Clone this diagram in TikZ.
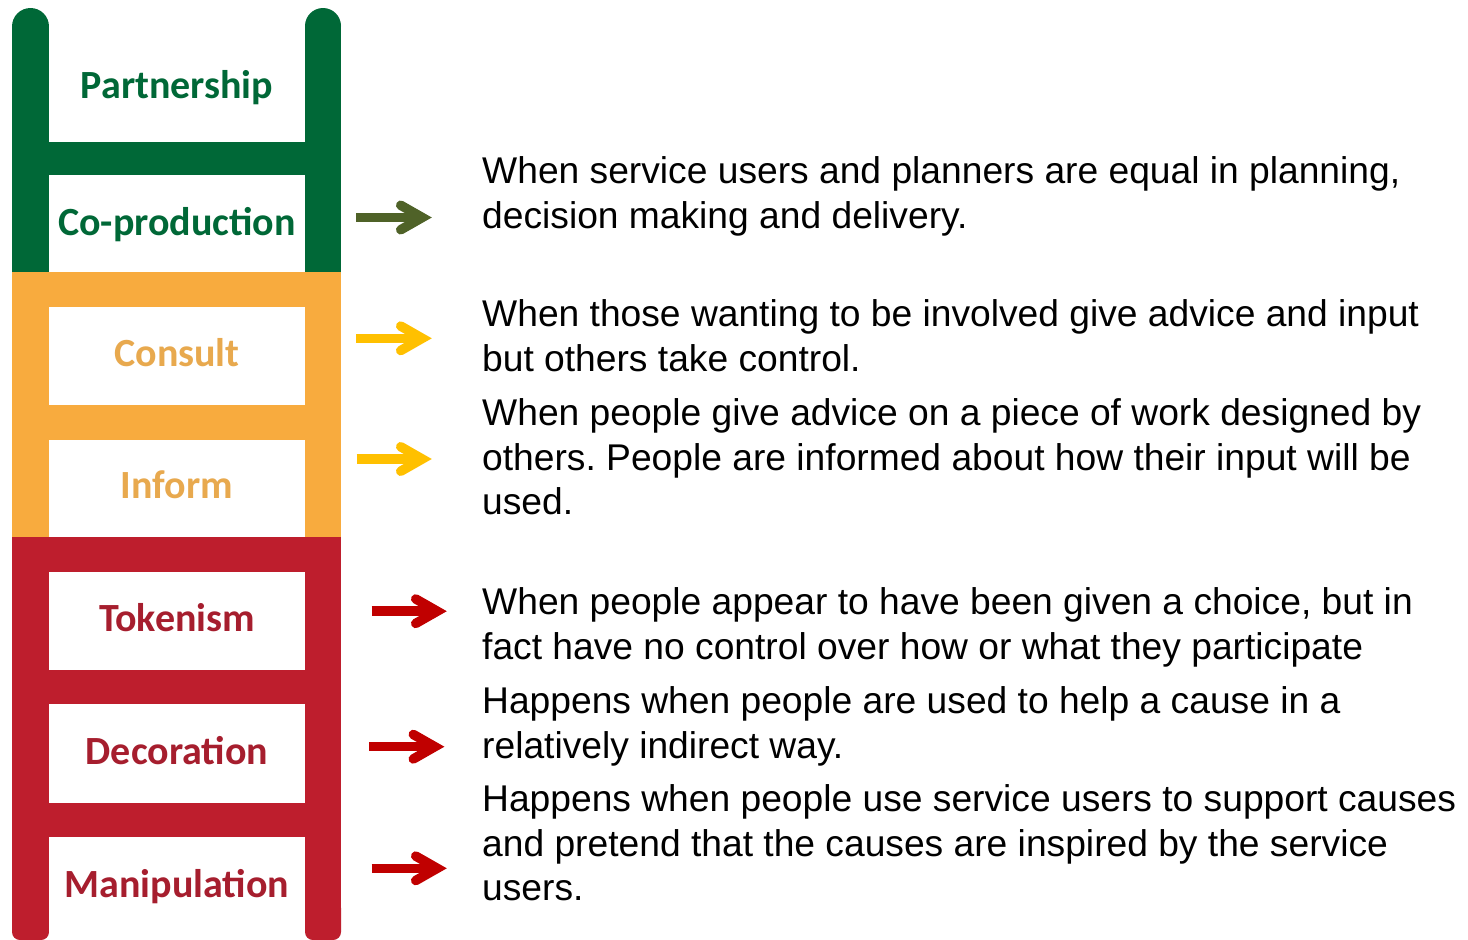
\documentclass[tikz,border=0pt]{standalone}
\usepackage{fontspec}
\setmainfont{Liberation Sans}
\newfontfamily\ladderfont{Carlito}
\usetikzlibrary{calc}
\frenchspacing
\definecolor{lgreen}{HTML}{006837}
\definecolor{lorange}{HTML}{F8AB3E}
\definecolor{lred}{HTML}{BE1E2D}
\definecolor{tgreen}{HTML}{006837}
\definecolor{torange}{HTML}{E8A94E}
\definecolor{tred}{HTML}{A61E2E}
\definecolor{agreen}{HTML}{4F6228}
\definecolor{ayellow}{HTML}{FFC000}
\definecolor{ared}{HTML}{C00000}
\tikzset{
  wbox/.style={fill=white, draw=none, inner sep=0, minimum width=256pt},
  rung/.style={inner sep=0, anchor=base, font=\ladderfont\bfseries\fontsize{40}{44}\selectfont},
  desc/.style={inner sep=0, anchor=north west, align=left, font=\fontsize{37.2}{44.7}\selectfont},
  arrshaft/.style={line width=9.5pt},
  arrhead/.style={line width=9.5pt, line cap=round, line join=miter}
}
\newcommand\ladarrow[3]{%
  \draw[arrshaft,#1] (#2) -- (#3);
  \draw[arrhead,#1] ($(#3)+(-21.5,-12.25)$) -- (#3) -- ($(#3)+(-21.5,12.25)$);
}
\begin{document}
\begin{tikzpicture}[x=1pt,y=-1pt]
\useasboundingbox[fill=white] (0,0) rectangle (1468,940);
% green section
\fill[lgreen] (30.5,26.5) circle[radius=18.5];
\fill[lgreen] (12,26.5) rectangle (49,272);
\fill[lgreen] (323,26) circle[radius=18];
\fill[lgreen] (305,26) rectangle (341,272);
\fill[lgreen] (49,142) rectangle (305,175);
% orange section
\fill[lorange] (12,272) rectangle (341,537);
% red section
\fill[lred] (12,537) rectangle (341,925);
\fill[lred, rounded corners=8pt] (12,900) rectangle (49,940);
\fill[lred, rounded corners=8pt] (305,900) rectangle (341,940);
% white boxes
\node[wbox, minimum height=142pt] (bPart) at (177,71) {};
\node[wbox, minimum height=97pt] (bCo) at (177,223.5) {};
\node[wbox, minimum height=98pt] (bCons) at (177,356) {};
\node[wbox, minimum height=97pt] (bInf) at (177,488.5) {};
\node[wbox, minimum height=98pt] (bTok) at (177,621) {};
\node[wbox, minimum height=99pt] (bDec) at (177,753.5) {};
\node[wbox, minimum height=103pt] (bMan) at (177,888.5) {};
% labels
\node[rung, text=tgreen] (lPart) at (177,98) {Partnership};
\node[rung, text=tgreen] (lCo) at (177,235) {Co-production};
\node[rung, text=torange] (lCons) at (177,366) {Consult};
\node[rung, text=torange] (lInf) at (177,498) {Inform};
\node[rung, text=tred] (lTok) at (177,631) {Tokenism};
\node[rung, text=tred] (lDec) at (177,764) {Decoration};
\node[rung, text=tred] (lMan) at (177,897) {Manipulation};
% arrows
\coordinate (a1s) at (356,217.5);   \coordinate (a1v) at (422.2,217.5);
\coordinate (a2s) at (356,338.3);   \coordinate (a2v) at (422.2,338.3);
\coordinate (a3s) at (356.7,459);   \coordinate (a3v) at (422.2,459);
\coordinate (a4s) at (371.7,611.2); \coordinate (a4v) at (437.2,611.2);
\coordinate (a5s) at (369.3,746.7); \coordinate (a5v) at (434.8,746.7);
\coordinate (a6s) at (371.7,868.3); \coordinate (a6v) at (437.2,868.3);
\ladarrow{agreen}{a1s}{a1v}
\ladarrow{ayellow}{a2s}{a2v}
\ladarrow{ayellow}{a3s}{a3v}
\ladarrow{ared}{a4s}{a4v}
\ladarrow{ared}{a5s}{a5v}
\ladarrow{ared}{a6s}{a6v}
% descriptions
\node[desc] (d1) at (482,156.2) {When service users and planners are equal in planning,\\decision making and delivery.};
\node[desc] (d2) at (482,299.2) {When those wanting to be involved give advice and input\\but others take control.};
\node[desc] (d3) at (482,398.2) {When people give advice on a piece of work designed by\\others. People are informed about how their input will be\\used.};
\node[desc] (d4) at (482,587.2) {When people appear to have been given a choice, but in\\fact have no control over how or what they participate};
\node[desc] (d5) at (482,686.2) {Happens when people are used to help a cause in a\\relatively indirect way.};
\node[desc] (d6) at (482,784.2) {Happens when people use service users to support causes\\and pretend that the causes are inspired by the service\\users.};
\end{tikzpicture}
\end{document}
